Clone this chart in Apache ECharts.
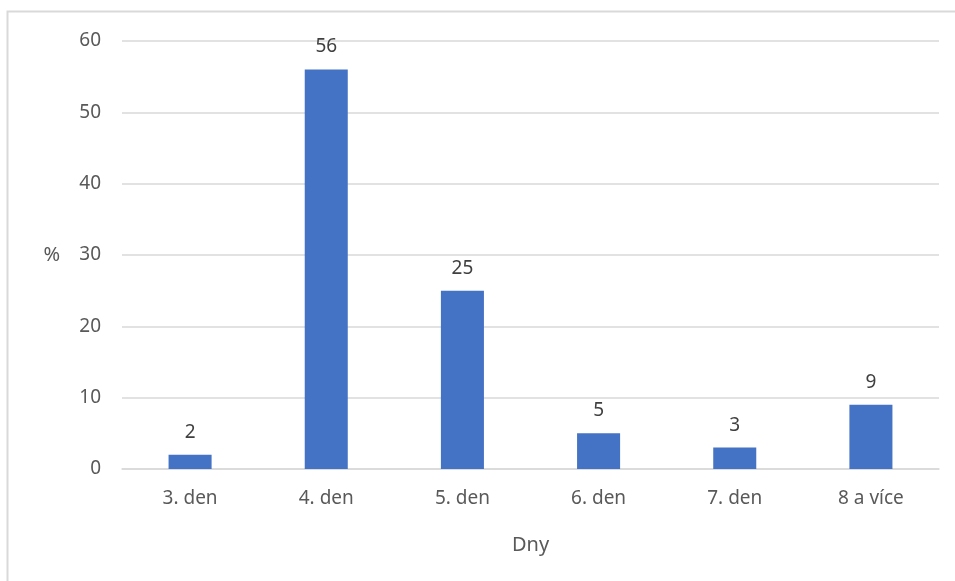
<!DOCTYPE html>
<html>
<head>
<meta charset="utf-8">
<script src="https://cdn.jsdelivr.net/npm/echarts@6/dist/echarts.min.js"></script>
<style>
  html, body { margin: 0; padding: 0; background: #fff; }
  #main { width: 955px; height: 581px; }
</style>
</head>
<body>
<div id="main"></div>
<script>
// data
var days = ['3. den', '4. den', '5. den', '6. den', '7. den', '8 a více'];
var percent = [2, 56, 25, 5, 3, 9];
var yTicks = { min: 0, max: 60, step: 10 };

var myChart = echarts.init(document.getElementById('main'));
var textColor = '#595959';
var font = 'Noto Sans';

var option = {
  backgroundColor: '#fff',
  animation: false,
  graphic: [{
    type: 'rect',
    shape: { x: 7.5, y: 11.5, width: 1000, height: 1000 },
    style: { fill: 'none', stroke: '#d9d9d9', lineWidth: 2 },
    silent: true
  }],
  grid: {
    left: 122,
    right: 16,
    top: 41,
    bottom: 112
  },
  xAxis: {
    type: 'category',
    data: days,
    name: 'Dny',
    nameLocation: 'middle',
    nameGap: 66,
    nameTextStyle: { color: textColor, fontSize: 20, fontFamily: font },
    axisLine: { lineStyle: { color: '#d9d9d9', width: 1.5 } },
    axisTick: { show: false },
    axisLabel: { color: textColor, fontSize: 19, fontFamily: font, margin: 20 }
  },
  yAxis: {
    type: 'value',
    min: yTicks.min,
    max: yTicks.max,
    interval: yTicks.step,
    name: '%',
    nameLocation: 'middle',
    nameRotate: 0,
    nameGap: 62,
    nameTextStyle: { color: textColor, fontSize: 20, fontFamily: font },
    axisLine: { show: false },
    axisTick: { show: false },
    splitLine: { lineStyle: { color: '#d9d9d9', width: 1.5 } },
    axisLabel: { color: textColor, fontSize: 19, fontFamily: font, margin: 21 }
  },
  series: [{
    name: '%',
    type: 'bar',
    data: percent,
    barWidth: '31.6%',
    itemStyle: { color: '#4472C4' },
    label: {
      show: true,
      position: 'top',
      distance: 13,
      color: '#404040',
      fontSize: 19,
      fontFamily: font
    }
  }]
};

myChart.setOption(option);
</script>
</body>
</html>
